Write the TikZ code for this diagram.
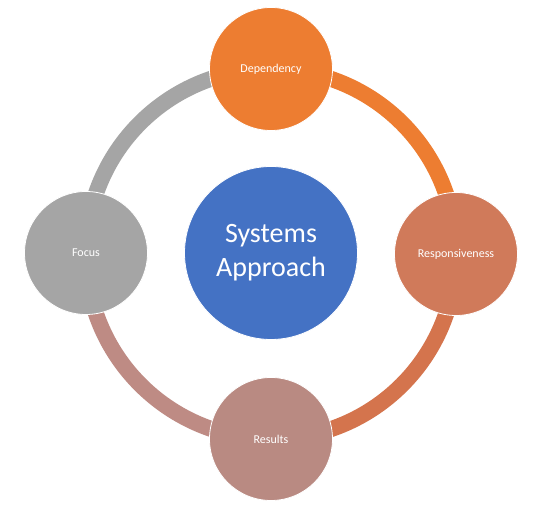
\documentclass[tikz,border=0pt]{standalone}
\usepackage{fontspec}
\setmainfont{Carlito}
\definecolor{cDep}{HTML}{ED7D31}
\definecolor{cResp}{HTML}{D07A5A}
\definecolor{cRes}{HTML}{B98A82}
\definecolor{cFoc}{HTML}{A5A5A5}
\definecolor{cSys}{HTML}{4472C4}
\definecolor{cArcResp}{HTML}{D4744D}
\definecolor{cArcRes}{HTML}{BE8B84}
\begin{document}
\begin{tikzpicture}[x=1pt,y=1pt,
  ringarc/.style={line width=16pt},
  outer/.style={circle,minimum size=123pt,inner sep=0pt,draw=white,line width=0.8pt,text=white,font=\fontsize{12}{14}\selectfont},
  core/.style={circle,minimum size=173pt,inner sep=0pt,draw=white,line width=0.8pt,fill=cSys,text=white,align=center,font=\fontsize{28}{34}\selectfont}]
\useasboundingbox[fill=white] (0,0) rectangle (550,505);
\coordinate (pdep) at (271,436);
\coordinate (presp) at (456,251);
\coordinate (pres) at (271,66);
\coordinate (pfoc) at (86,252);
\draw[ringarc,cDep] (pdep) to[bend left=45] (presp);
\draw[ringarc,cArcResp] (presp) to[bend left=45] (pres);
\draw[ringarc,cArcRes] (pres) to[bend left=45] (pfoc);
\draw[ringarc,cFoc] (pfoc) to[bend left=45] (pdep);
\node[outer,fill=cDep] (dep) at (pdep) {Dependency};
\node[outer,fill=cResp] (resp) at (presp) {Responsiveness};
\node[outer,fill=cRes] (res) at (pres) {Results};
\node[outer,fill=cFoc] (foc) at (pfoc) {Focus};
\node[core] (sys) at (271,252) {Systems\\Approach};
\end{tikzpicture}
\end{document}
